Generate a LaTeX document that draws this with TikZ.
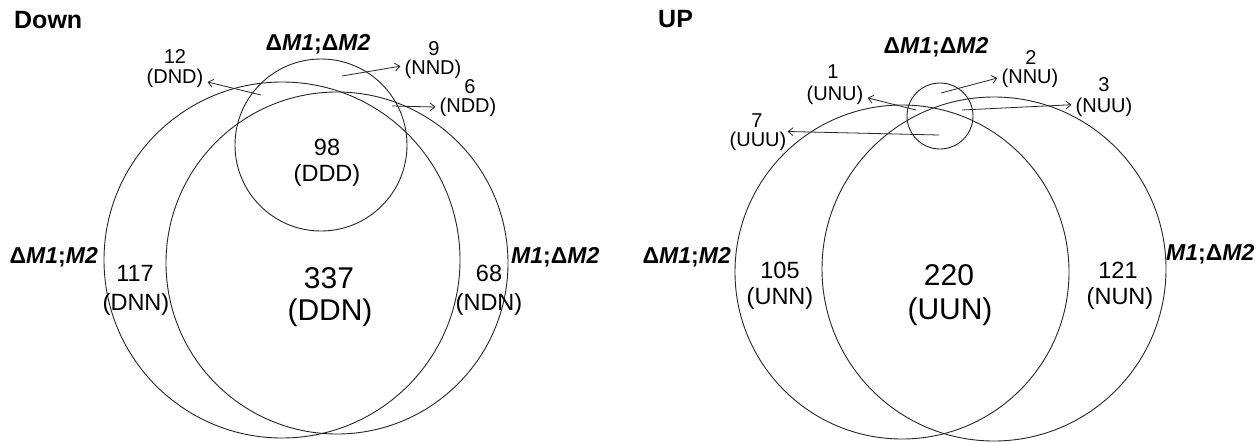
\documentclass[tikz,border=0pt]{standalone}
\usepackage{fontspec}
\setmainfont{Liberation Sans}
\usetikzlibrary{arrows.meta}
\begin{document}
\begin{tikzpicture}[x=1pt,y=-1pt,
  venn/.style={draw=black!85, line width=0.9pt, circle, inner sep=0pt},
  titlelab/.style={font=\fontsize{25}{30}\selectfont\bfseries, inner sep=0pt},
  setlab/.style={font=\fontsize{23}{27}\selectfont\bfseries, inner sep=0pt},
  smallnum/.style={font=\fontsize{20}{24}\selectfont, inner sep=0pt},
  codelab/.style={font=\fontsize{20}{24}\selectfont, inner xsep=4pt, inner ysep=0pt},
  midlab/.style={font=\fontsize{23.5}{28}\selectfont, inner sep=0pt},
  biglab/.style={font=\fontsize{30}{36}\selectfont, inner sep=0pt},
  pointer/.style={-{Straight Barb[length=5pt,width=8pt]}, line width=0.8pt, draw=black!85},
]
\fill[white] (0,0) rectangle (1256,442);
\useasboundingbox (0,0) rectangle (1256,442);

% ---------------- Down ----------------
\node[titlelab, anchor=west] (tdown) at (14,20) {Down};
\node[venn, minimum size=356pt] (dA) at (282,260) {};
\node[venn, minimum size=342pt] (dB) at (337,263) {};
\node[venn, minimum size=172pt] (dC) at (321,145) {};
\node[setlab] (dlC) at (318,44) {Δ\textit{M1};Δ\textit{M2}};
\node[setlab, anchor=east] (dlA) at (98,257) {Δ\textit{M1};\textit{M2}};
\node[setlab, anchor=west] (dlB) at (511,257) {\textit{M1};Δ\textit{M2}};

\node[smallnum] (n12) at (175,57) {12};
\node[codelab] (dnd) at (175,78) {(DND)};
\node[smallnum] (n9) at (434,49) {9};
\node[codelab] (nnd) at (433,69) {(NND)};
\node[smallnum] (n6) at (470,87) {6};
\node[codelab] (ndd) at (468,107) {(NDD)};
\node[midlab] (n98) at (327,147) {98};
\node[midlab] (ddd) at (327,175) {(DDD)};
\node[midlab] (n117) at (135,273) {117};
\node[midlab] (dnn) at (136,304) {(DNN)};
\node[biglab] (n337) at (329,278) {337};
\node[biglab] (ddn) at (330,313) {(DDN)};
\node[midlab] (n68) at (489,273) {68};
\node[midlab] (ndn) at (489,304) {(NDN)};

\coordinate (sdnd) at (261,95);
\coordinate (snnd) at (342,76);
\coordinate (sndd) at (392,106);
\draw[pointer] (sdnd) -- (dnd.-7);
\draw[pointer] (snnd) -- (nnd.175);
\draw[pointer] (sndd) -- (ndd.west);

% ---------------- UP ----------------
\node[titlelab, anchor=west] (tup) at (658,19) {UP};
\node[venn, minimum size=334pt] (uA) at (902,272) {};
\node[venn, minimum size=344pt] (uB) at (994,269) {};
\node[venn, minimum size=66pt] (uC) at (940,116) {};
\node[setlab] (ulC) at (936,47) {Δ\textit{M1};Δ\textit{M2}};
\node[setlab, anchor=east] (ulA) at (731,257) {Δ\textit{M1};\textit{M2}};
\node[setlab, anchor=west] (ulB) at (1166,254) {\textit{M1};Δ\textit{M2}};

\node[smallnum] (n1) at (833,72) {1};
\node[codelab] (unu) at (835,95) {(UNU)};
\node[smallnum] (n7) at (757,121) {7};
\node[codelab] (uuu) at (758,141) {(UUU)};
\node[smallnum] (n2) at (1031,58) {2};
\node[codelab] (nnu) at (1030,78) {(NNU)};
\node[smallnum] (n3) at (1104,85) {3};
\node[codelab] (nuu) at (1104,107) {(NUU)};
\node[midlab] (n105) at (780,270) {105};
\node[midlab] (unn) at (780,298) {(UNN)};
\node[midlab] (n121) at (1118,270) {121};
\node[midlab] (nun) at (1120,298) {(NUN)};
\node[biglab] (n220) at (949,275) {220};
\node[biglab] (uun) at (950,312) {(UUN)};

\coordinate (sunu) at (916,110);
\coordinate (suuu) at (939,135);
\coordinate (snnu) at (941,93);
\coordinate (snuu) at (962,110);
\draw[pointer] (sunu) -- (unu.-5);
\draw[pointer] (suuu) -- ([xshift=-3pt]uuu.north east);
\draw[pointer] (snnu) -- (nnu.west);
\draw[pointer] (snuu) -- (nuu.176);
\end{tikzpicture}
\end{document}
